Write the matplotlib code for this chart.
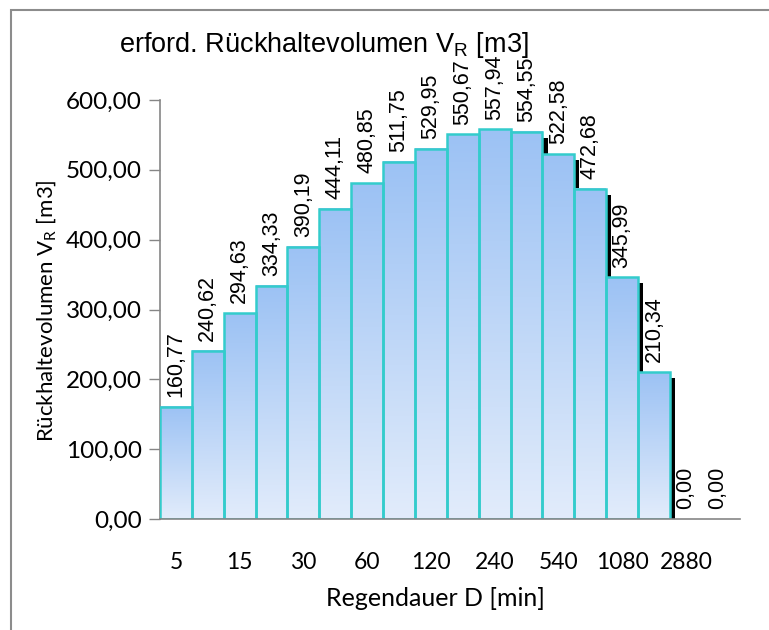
import numpy as np
import matplotlib.pyplot as plt
from matplotlib.colors import LinearSegmentedColormap
from matplotlib.patches import Rectangle
from matplotlib.ticker import FuncFormatter

plt.rcParams['mathtext.fontset'] = 'custom'
plt.rcParams['mathtext.rm'] = 'Liberation Sans'
plt.rcParams['mathtext.sf'] = 'Lato'

# Regendauer D [min] and required retention volume V_R [m3]
durations = [5, 10, 15, 20, 30, 45, 60, 90, 120, 180, 240, 360, 540, 720, 1080, 1440, 2880, 4320]
volumes = [160.77, 240.62, 294.63, 334.33, 390.19, 444.11, 480.85, 511.75, 529.95,
           550.67, 557.94, 554.55, 522.58, 472.68, 345.99, 210.34, 0.00, 0.00]
tick_labels = [str(d) if i % 2 == 0 else "" for i, d in enumerate(durations)]

fig = plt.figure(figsize=(7.69, 6.30), dpi=100)
ax = fig.add_axes([160 / 769, 1 - 519 / 630, 580 / 769, 419 / 630])

# outer chart frame (cropped on right/bottom in the original)
fig.patches.append(Rectangle((11 / 769, -0.1), 1.2, 1 - 10 / 630 + 0.1,
                             transform=fig.transFigure, fill=False,
                             edgecolor='#8c8c8c', linewidth=1.5, zorder=0))

cmap = LinearSegmentedColormap.from_list('bar', ['#e2ecfb', '#9cc2f4'])
grad = np.linspace(0, 1, 256).reshape(-1, 1)

x = np.arange(len(volumes))
dx = 0.16   # shadow offset in x (categories)
dy = 8.5    # shadow offset in y (data units)
for xi, v in zip(x, volumes):
    if v <= 0:
        continue
    # shadow
    ax.bar(xi + dx, max(v - dy, 0), width=1.0, color='black', zorder=1)
for xi, v in zip(x, volumes):
    if v <= 0:
        continue
    ax.imshow(grad, extent=[xi - 0.5, xi + 0.5, 0, v], origin='lower',
              cmap=cmap, aspect='auto', zorder=2, interpolation='bilinear')
    ax.bar(xi, v, width=1.0, fill=False, edgecolor='#33cccc', linewidth=1.8, zorder=3)

for xi, v in zip(x, volumes):
    ax.text(xi, v + 14, f"{v:.2f}".replace('.', ','), rotation=90,
            ha='center', va='bottom', fontsize=15.5, family='Liberation Sans', zorder=5)

ax.set_xlim(-0.5, 17.7)
ax.set_ylim(0, 600)
ax.set_yticks(np.arange(0, 601, 100))
ax.yaxis.set_major_formatter(FuncFormatter(lambda v, p: f"{v:.2f}".replace('.', ',')))
ax.set_xticks(x)
ax.set_xticklabels(tick_labels)
ax.tick_params(axis='x', length=0, pad=24, labelsize=16.5)
ax.tick_params(axis='y', length=8, width=1, color='#868686', labelsize=17.5, pad=5)
for lab in ax.get_xticklabels() + ax.get_yticklabels():
    lab.set_family('Lato')

for s in ['top', 'right']:
    ax.spines[s].set_visible(False)
for s in ['left', 'bottom']:
    ax.spines[s].set_color('#868686')
    ax.spines[s].set_linewidth(1.2)
ax.spines['bottom'].set_zorder(4)

fig.text(324 / 769, 1 - 45 / 630, r"erford. Rückhaltevolumen V$_\mathrm{R}$ [m3]",
         ha='center', va='center', fontsize=19.5, family='Liberation Sans')
fig.text(47 / 769, 1 - 311 / 630, r"Rückhaltevolumen V$_\mathsf{R}$ [m3]",
         ha='center', va='center', rotation=90, fontsize=16, family='Lato')
fig.text(435 / 769, 1 - 599 / 630, "Regendauer D [min]",
         ha='center', va='center', fontsize=18, family='Lato')

fig.savefig('out.png', dpi=100)
